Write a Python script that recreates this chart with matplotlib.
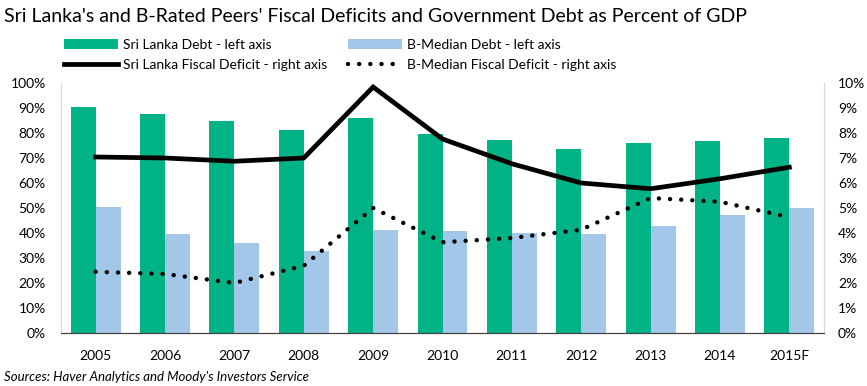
import matplotlib
matplotlib.use("Agg")
import matplotlib.pyplot as plt
import numpy as np

plt.rcParams['font.family'] = ['Lato', 'DejaVu Sans']

years = ["2005", "2006", "2007", "2008", "2009", "2010", "2011", "2012", "2013", "2014", "2015F"]
sl_debt = [90.4, 87.7, 84.9, 81.2, 85.9, 79.7, 77.3, 73.7, 76.0, 76.9, 78.0]
bmed_debt = [50.3, 39.5, 36.1, 32.7, 41.1, 40.9, 40.0, 39.7, 42.9, 47.2, 49.9]
sl_deficit = [7.04, 7.0, 6.87, 7.0, 9.84, 7.76, 6.77, 6.0, 5.77, 6.17, 6.63]
bmed_deficit = [2.45, 2.36, 2.0, 2.69, 5.0, 3.63, 3.8, 4.13, 5.4, 5.25, 4.63]

green = "#00B386"
blue = "#A3C7E9"

fig = plt.figure(figsize=(8.67, 3.86), dpi=100)
ax = fig.add_axes([61/867, 1-333/386, (824-61)/867, (333-83)/386])
x = np.arange(len(years))
w = 0.36
b1 = ax.bar(x - w/2, sl_debt, w, color=green, label="Sri Lanka Debt - left axis")
b2 = ax.bar(x + w/2, bmed_debt, w, color=blue, label="B-Median Debt - left axis")
ax.set_ylim(0, 100)
ax.set_xlim(-0.5, len(years) - 0.5)
ax.set_yticks(np.arange(0, 101, 10))
ax.set_yticklabels([f"{v}%" for v in range(0, 101, 10)])
ax.set_xticks(x)
ax.set_xticklabels(years)

ax2 = ax.twinx()
l1, = ax2.plot(x, sl_deficit, color="black", lw=3.4, solid_joinstyle='miter',
               label="Sri Lanka Fiscal Deficit - right axis")
l2, = ax2.plot(x, bmed_deficit, color="black", lw=3.2, linestyle=(0, (0.01, 2.5)),
               dash_capstyle='round', label="B-Median Fiscal Deficit - right axis")
ax2.set_ylim(0, 10)
ax2.set_yticks(np.arange(0, 11, 1))
ax2.set_yticklabels([f"{v}%" for v in range(0, 11)])

for a in (ax, ax2):
    a.spines['top'].set_visible(False)
    a.spines['left'].set_color("#D9D9D9")
    a.spines['right'].set_color("#D9D9D9")
    a.spines['bottom'].set_color("#404040")
    a.tick_params(length=0, labelsize=10, colors="#000000")
ax.tick_params(axis='x', pad=12)
ax.tick_params(axis='y', pad=11)
ax2.tick_params(axis='y', pad=10)

fig.legend(handles=[b1, l1, b2, l2], ncol=2, loc='upper left',
           bbox_to_anchor=(58/867, 1-33/386), frameon=False, fontsize=10,
           handlelength=3.9, handleheight=0.75, columnspacing=1.5, labelspacing=0.62,
           handletextpad=0.35, borderaxespad=0)

fig.text(4/867, 1-16/386, "Sri Lanka's and B-Rated Peers' Fiscal Deficits and Government Debt as Percent of GDP",
         fontsize=14, va='center', ha='left')
fig.text(4/867, 1-377/386, "Sources: Haver Analytics and Moody's Investors Service",
         fontsize=9.5, style='italic', va='center', ha='left')

fig.savefig("out.png", dpi=100)
